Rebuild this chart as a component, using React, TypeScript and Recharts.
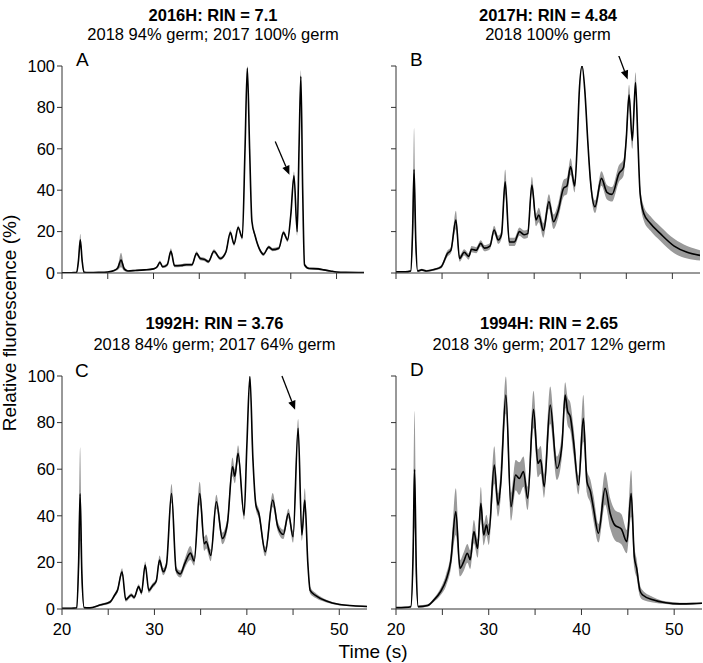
import React from 'react';
import { ComposedChart, Area, Line, XAxis, YAxis, ReferenceLine } from 'recharts';

// panel A: 2016H
const timeA = [20, 21, 21.6, 21.8, 22, 22.2, 22.4, 23, 24, 25, 25.7, 26.1, 26.45, 26.8, 27.2, 28, 29, 30, 30.4, 30.7, 31, 31.5, 31.9, 32.3, 33, 33.6, 34.2, 34.7, 35.1, 35.6, 36, 36.6, 37.3, 37.9, 38.4, 38.8, 39.25, 39.7, 40, 40.25, 40.5, 40.75, 41.1, 41.4, 41.7, 42, 42.6, 43, 43.7, 44.2, 44.65, 45, 45.35, 45.7, 45.9, 46.1, 46.3, 46.5, 47, 48, 48.6, 49.3, 50, 51, 53];
const meanA = [0.1, 0.1, 0.3, 6, 16, 6, 0.4, 0.2, 0.3, 0.5, 1.2, 2.5, 6.3, 2, 1, 1.2, 1.5, 2, 3, 5.2, 3, 4, 10.5, 3.5, 3.6, 4, 4, 9.5, 7, 6.5, 5.5, 10.5, 7, 10, 19.5, 14, 22, 17, 60, 99, 60, 25, 18, 13.5, 10.5, 9, 12.5, 11.3, 12, 19.5, 16, 28, 47, 20, 60, 95, 40, 4, 2.2, 2, 1.5, 1, 0.5, 0.3, 0.2];
const sdA = [0.1, 0.1, 0.2, 1.5, 3, 1.5, 0.2, 0.1, 0.1, 0.2, 0.4, 1, 3.5, 1, 0.4, 0.4, 0.4, 0.4, 0.5, 0.8, 0.6, 0.8, 1.5, 0.7, 0.7, 0.7, 0.7, 1, 0.8, 0.8, 0.8, 1, 0.8, 1, 1.2, 1, 1, 1, 1, 1, 1, 1, 1, 1, 0.8, 0.8, 0.8, 0.8, 0.8, 1, 1, 1.5, 2, 2, 3, 3, 2, 0.8, 0.5, 0.5, 0.4, 0.3, 0.2, 0.1, 0.1];

// panel B: 2017H
const timeB = [20, 21, 21.6, 21.8, 21.96, 22.15, 22.35, 22.8, 23.3, 24.15, 24.9, 25.6, 25.96, 26.5, 26.9, 27.4, 27.9, 28.2, 28.7, 29.2, 29.6, 30.2, 30.65, 31.1, 31.45, 31.85, 32.3, 32.85, 33.4, 33.9, 34.3, 34.75, 35.2, 35.5, 36, 36.6, 37.1, 37.6, 38.2, 38.55, 38.95, 39.4, 39.65, 39.9, 40.2, 40.5, 40.8, 41.1, 41.6, 42.3, 42.9, 43.45, 44.2, 44.7, 45, 45.3, 45.65, 46, 46.25, 46.5, 46.9, 47.6, 48.7, 50.2, 51.6, 53];
const meanB = [0.6, 0.6, 1, 20, 50, 15, 1, 1.5, 1, 1.7, 3, 9.5, 11, 25.6, 7, 10, 8, 11.5, 11, 14.3, 12, 13, 20.8, 16, 18.5, 44, 15, 15, 20, 18.5, 19, 42.5, 25.6, 28, 20.5, 34.5, 24.8, 30, 41, 42, 51.4, 42, 60, 88, 100, 88, 65, 45, 32, 45.7, 39, 38, 48, 51, 65, 86, 64, 92, 65, 38.5, 28.8, 24, 19, 13, 10, 8.5];
const sdB = [0.3, 0.3, 0.5, 8, 20, 6, 0.5, 0.5, 0.5, 0.5, 0.8, 1.5, 1.5, 4.5, 1.5, 1.5, 1.5, 1.5, 1.5, 1.5, 1.5, 1.5, 2, 2, 2, 6, 2, 2, 2, 2, 2, 4, 3, 3.5, 3.5, 3.5, 3.5, 3.5, 4, 4, 4, 3, 2, 1.5, 1, 1.5, 2, 3, 3, 3.5, 3.5, 3.5, 4, 4, 4, 5, 4, 5, 4, 3.5, 3.5, 3.5, 3.5, 3.5, 3, 2.5];

// panel C: 1992H
const timeC = [20, 21, 21.6, 21.8, 21.96, 22.15, 22.4, 23, 24.1, 25.2, 25.7, 26, 26.5, 26.9, 27.5, 27.8, 28.3, 28.6, 29, 29.4, 29.8, 30.2, 30.55, 30.95, 31.3, 31.85, 32.35, 32.8, 33.3, 33.9, 34.3, 34.9, 35.4, 35.6, 36.1, 36.7, 37.35, 37.9, 38.45, 38.7, 39.05, 39.7, 40, 40.33, 40.65, 40.98, 41.3, 42, 42.8, 43.35, 43.95, 44.5, 45, 45.55, 45.95, 46.27, 46.6, 46.85, 47.5, 48.6, 50.05, 51.5, 53];
const meanC = [0.3, 0.3, 0.5, 20, 49.4, 15, 0.6, 0.5, 1.7, 3, 6, 8, 16, 4, 6, 5, 9.6, 7, 18.9, 7.9, 10, 12, 21, 16, 19, 49.6, 16.7, 15, 19.7, 24, 20.6, 49.6, 28, 29, 23, 46, 30.3, 36.8, 61, 57, 66.8, 40.3, 70, 99.7, 65, 44.6, 41, 24.6, 46.8, 35.3, 32, 41, 31, 77.5, 31.8, 46.8, 19.6, 8, 5.6, 3.4, 1.9, 1.4, 1.1];
const sdC = [0.2, 0.2, 0.3, 8, 20, 6, 0.3, 0.3, 0.4, 0.6, 0.8, 1, 1.5, 0.8, 0.8, 0.8, 1, 1, 1.5, 1, 1, 1, 2, 1.5, 1.5, 4, 1.5, 1.5, 2, 3, 2, 5, 3, 3, 2.5, 3, 2.5, 2.5, 4, 3, 3.5, 2, 1, 1, 1.5, 2, 2, 2, 3, 2, 2, 2, 2.5, 4, 2.5, 5, 2, 1.5, 1, 0.6, 0.4, 0.3, 0.3];

// panel D: 1994H
const timeD = [20, 21, 21.6, 21.85, 22, 22.2, 22.4, 23.4, 24.1, 24.8, 25.4, 25.9, 26.45, 26.9, 27.3, 27.7, 28, 28.4, 28.8, 29.15, 29.45, 29.75, 30, 30.6, 31, 31.3, 31.85, 32.4, 32.9, 33.3, 33.75, 34.2, 34.83, 35.3, 35.6, 35.98, 36.63, 37.35, 37.9, 38.24, 38.5, 38.8, 39.15, 39.68, 40.2, 40.6, 40.96, 41.3, 41.83, 42.55, 43.1, 43.6, 44.3, 44.9, 45.36, 45.7, 45.95, 46.3, 46.6, 47.7, 49.1, 50.6, 52, 53];
const meanD = [0.6, 0.7, 1, 25, 60, 15, 1, 1.5, 3.9, 7.4, 12.4, 20.3, 41.8, 17.5, 20.3, 23.9, 21.2, 33.2, 26, 45.4, 31.8, 36, 32, 61.8, 44.6, 54, 91.8, 43.9, 57.5, 56, 59, 47.5, 85.7, 62.5, 64, 52.5, 87.5, 60.4, 70.4, 91.8, 85, 82.5, 71.8, 53.2, 81.8, 54.6, 50.6, 43.2, 32.5, 51.8, 41, 36, 34.3, 28.9, 49.6, 22.5, 17.5, 8, 6, 4, 2.7, 2.2, 2.3, 2.5];
const sdD = [0.3, 0.3, 0.5, 10, 25, 6, 0.5, 0.5, 0.8, 1.5, 2.5, 3.5, 10, 3.5, 4, 4, 4, 5, 4, 7, 4.5, 4.5, 4.5, 8, 5, 6, 8, 6, 6.5, 7, 6.5, 5, 8, 6, 6, 5, 8, 5, 5, 5.5, 6, 6, 6, 4, 10, 5, 5, 5.5, 4, 7, 6.5, 6.5, 6.5, 5, 10, 5, 4, 2.5, 2, 1.2, 0.6, 0.5, 0.4, 0.4];

const xTicks = [20, 25, 30, 35, 40, 45, 50];
const yTicks = [0, 20, 40, 60, 80, 100];
const titles = ['2016H: RIN = 7.1', '2017H: RIN = 4.84', '1992H: RIN = 3.76', '1994H: RIN = 2.65'];
const subtitles = ['2018 94% germ; 2017 100% germ', '2018 100% germ', '2018 84% germ; 2017 64% germ', '2018 3% germ; 2017 12% germ'];
const letters = ['A', 'B', 'C', 'D'];

// arrows, in data units (time, %)
const arrowA = [[43.3, 63.5], [44.85, 47.5]];
const arrowB = [[43.8, 109.5], [45.15, 93.5]];
const arrowC = [[43.8, 100], [45.22, 85.5]];

const FONT = '"Liberation Sans", Arial, Helvetica, sans-serif';

function rows(t: number[], m: number[], s: number[]) {
  return t.map((x, i) => ({ t: x, m: m[i], band: [Math.max(0, m[i] - s[i]), m[i] + s[i]] }));
}

const ArrowShape = (p: any) => {
  const { x1, y1, x2, y2 } = p;
  const dx = x2 - x1, dy = y2 - y1;
  const len = Math.sqrt(dx * dx + dy * dy) || 1;
  const ux = dx / len, uy = dy / len;
  const hl = 9, hw = 3.8;
  const bx = x2 - ux * hl, by = y2 - uy * hl;
  const pts = `${x2},${y2} ${bx - uy * hw},${by + ux * hw} ${bx + uy * hw},${by - ux * hw}`;
  return (
    <g>
      <line x1={x1} y1={y1} x2={bx} y2={by} stroke="#000" strokeWidth={1.3} />
      <polygon points={pts} fill="#000" />
    </g>
  );
};

type PanelProps = {
  data: any[];
  left: number;
  top: number;
  w: number;
  h: number;
  xLabels: boolean;
  yLabels: boolean;
  arrow?: number[][];
};

function Panel({ data, left, top, w, h, xLabels, yLabels, arrow }: PanelProps) {
  const ml = 45, mt = 10, xh = 35;
  return (
    <div style={{ position: 'absolute', left: left - ml, top: top - mt }}>
      <ComposedChart width={ml + w + 3} height={mt + h + xh} data={data} margin={{ top: mt, right: 3, bottom: 0, left: 0 }}>
        <XAxis
          dataKey="t"
          type="number"
          domain={[20, 53]}
          allowDataOverflow
          ticks={xTicks}
          interval={0}
          tickFormatter={(v: number) => (xLabels && v % 10 === 0 ? String(v) : '')}
          height={xh}
          tickSize={6}
          tickMargin={8}
          stroke="#333"
          tick={{ fill: '#000', fontSize: 16.5 }}
        />
        <YAxis
          type="number"
          domain={[0, 100]}
          allowDataOverflow
          ticks={yTicks}
          interval={0}
          tickFormatter={(v: number) => (yLabels ? String(v) : '')}
          width={ml}
          tickSize={5}
          tickMargin={2}
          stroke="#333"
          tick={{ fill: '#000', fontSize: 16.5 }}
        />
        <Area dataKey="band" type="monotone" stroke="none" fill="#9a9a9a" fillOpacity={1} isAnimationActive={false} />
        <Line dataKey="m" type="monotone" stroke="#000" strokeWidth={1.6} dot={false} isAnimationActive={false} />
        {arrow && (
          <ReferenceLine
            segment={[{ x: arrow[0][0], y: arrow[0][1] }, { x: arrow[1][0], y: arrow[1][1] }]}
            ifOverflow="visible"
            shape={ArrowShape}
          />
        )}
      </ComposedChart>
    </div>
  );
}

export default function App() {
  const panels = [
    { data: rows(timeA, meanA, sdA), left: 62, top: 66, w: 302, h: 207, xLabels: false, yLabels: true, arrow: arrowA },
    { data: rows(timeB, meanB, sdB), left: 396, top: 66, w: 304, h: 207, xLabels: false, yLabels: false, arrow: arrowB },
    { data: rows(timeC, meanC, sdC), left: 62, top: 376, w: 305, h: 233, xLabels: true, yLabels: true, arrow: arrowC },
    { data: rows(timeD, meanD, sdD), left: 396, top: 376, w: 306, h: 233, xLabels: true, yLabels: false },
  ];
  const titleY = [[20.5, 40], [20.5, 40], [329, 350], [329, 350]];
  const letterPos = [[76, 66], [410, 66], [75, 377], [410, 376]];
  return (
    <div style={{ position: 'absolute', left: 0, top: 0, width: 703, height: 663, background: '#fff', fontFamily: FONT }}>
      {panels.map((p, i) => (
        <Panel key={i} {...p} />
      ))}
      <svg width={703} height={663} style={{ position: 'absolute', left: 0, top: 0, pointerEvents: 'none' }} fontFamily={FONT}>
        {panels.map((p, i) => (
          <g key={i}>
            <text x={p.left + p.w / 2} y={titleY[i][0]} textAnchor="middle" fontSize={16.5} fontWeight="bold" fill="#000">
              {titles[i]}
            </text>
            <text x={p.left + p.w / 2} y={titleY[i][1]} textAnchor="middle" fontSize={16.5} fill="#000">
              {subtitles[i]}
            </text>
            <text x={letterPos[i][0]} y={letterPos[i][1]} fontSize={19} fill="#000">
              {letters[i]}
            </text>
          </g>
        ))}
        <text x={373} y={658} textAnchor="middle" fontSize={19} fill="#000">
          Time (s)
        </text>
        <text transform="translate(16,323) rotate(-90)" textAnchor="middle" fontSize={19} fill="#000">
          Relative fluorescence (%)
        </text>
      </svg>
    </div>
  );
}
